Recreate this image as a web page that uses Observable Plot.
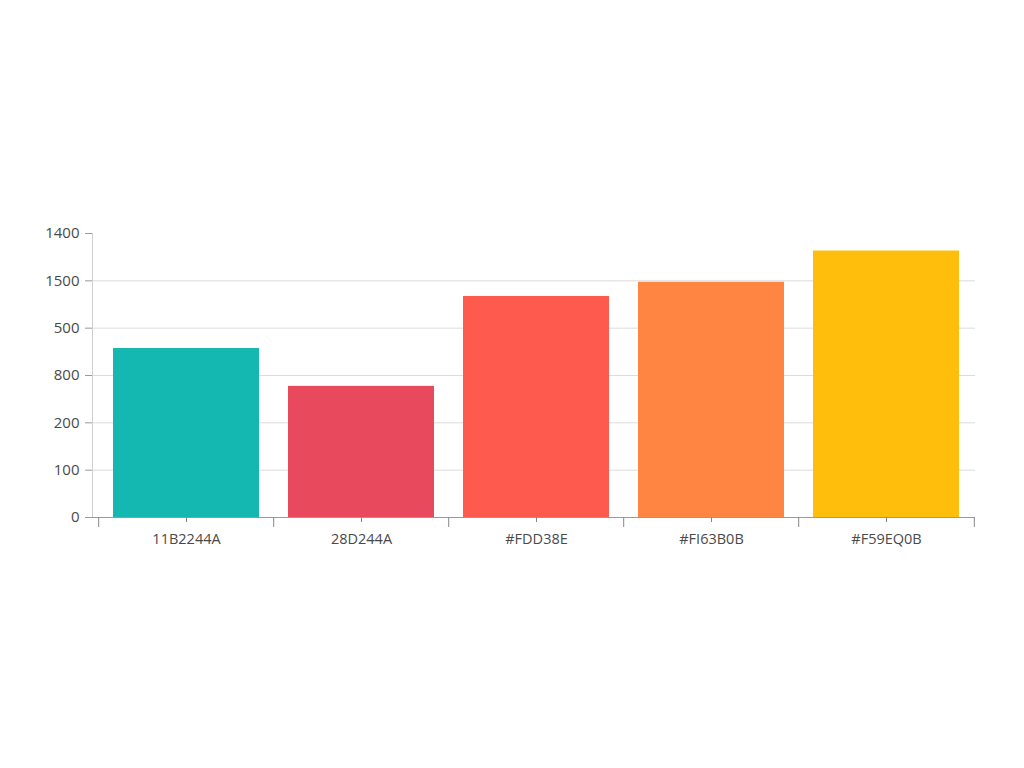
<!DOCTYPE html>
<html><head><meta charset="utf-8">
<script src="https://cdn.jsdelivr.net/npm/d3@7"></script>
<script src="https://cdn.jsdelivr.net/npm/@observablehq/plot@0.6"></script>
<style>body{margin:0;background:#fff;overflow:hidden}</style>
</head><body><div id="chart"></div>
<script>
const categories = ["11B2244A", "28D244A", "#FDD38E", "#FI63B0B", "#F59EQ0B"];
const values = [357, 277, 467, 497, 563];
const colors = ["#14B8B0", "#E9495C", "#FF5A4E", "#FF8642", "#FFBE0B"];
const yTickValues = [0, 100, 200, 300, 400, 500, 600];
const yTickLabels = ["0", "100", "200", "800", "500", "1500", "1400"];
const gridValues = [100, 200, 300, 400, 500];

const data = categories.map((c, i) => ({category: c, value: values[i], color: colors[i]}));

const W = 1024, H = 768, mL = 92, mR = 49, mT = 233, mB = 251, inset = 5;
const step = (W - mL - mR - inset) / categories.length;

const chart = Plot.plot({
  width: W, height: H,
  marginLeft: mL, marginRight: mR, marginTop: mT, marginBottom: mB,
  style: {fontFamily: "'Open Sans', 'Noto Sans', sans-serif", fontSize: "14px", background: "#fff", color: "#4a4a4a"},
  x: {type: "band", domain: categories, paddingInner: 0.165, paddingOuter: 0.09, insetLeft: inset, label: null},
  y: {domain: [0, 600], label: null},
  marks: [
    Plot.gridY(gridValues, {stroke: "#dcdcdc", strokeOpacity: 1}),
    Plot.barY(data, {x: "category", y: "value", fill: "color"}),
    Plot.frame({anchor: "left", stroke: "#cfcfcf"}),
    Plot.ruleY([0], {stroke: "#999"}),
    Plot.axisY(yTickValues, {tickFormat: (d, i) => yTickLabels[i], tickSize: 7, tickPadding: 6, stroke: "#999", fill: "#4a4a4a", fontSize: 15, label: null}),
    Plot.axisX({tickSize: 5, tickPadding: 11, stroke: "#888", fill: "#4a4a4a", fontSize: 14.5, label: null}),
    Plot.axisX({tickSize: 10, dx: -step / 2, stroke: "#888", tickFormat: () => "", label: null}),
    Plot.axisX([categories[categories.length - 1]], {tickSize: 10, dx: step / 2, stroke: "#888", tickFormat: () => "", label: null})
  ]
});
document.getElementById("chart").append(chart);
</script>
</body></html>
